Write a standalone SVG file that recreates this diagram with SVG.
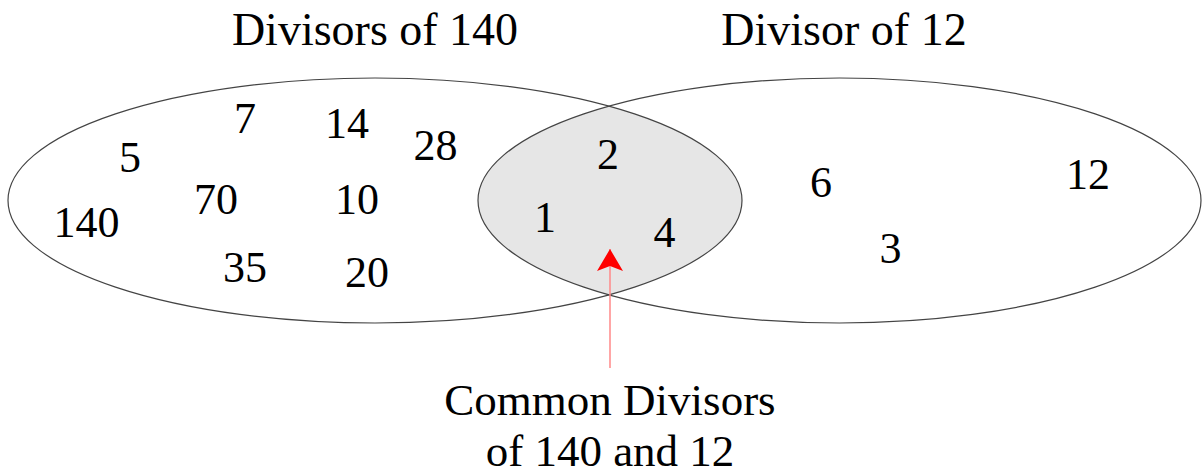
<svg xmlns="http://www.w3.org/2000/svg" width="1202" height="474" viewBox="0 0 1202 474">
<style>
.t{font-family:"Liberation Serif","Times New Roman",serif;font-size:44px;fill:#000;text-anchor:middle}
.h{font-size:46px}
.c{font-size:45px}
.set{fill:none;stroke:#444;stroke-width:1.2}
</style>
<defs>
<clipPath id="clipL"><ellipse cx="375" cy="200.5" rx="367" ry="122.5"/></clipPath>
<marker id="ah" viewBox="0 0 26 26" refX="24" refY="13" markerWidth="26" markerHeight="26" markerUnits="userSpaceOnUse" orient="auto">
<path d="M24 13 L2 0 L7 13 L2 26 Z" fill="#ff0000"/>
</marker>
</defs>
<rect width="1202" height="474" fill="#fff"/>
<g id="intersection">
<ellipse cx="839.5" cy="200.5" rx="361.5" ry="122.5" fill="#e6e6e6" clip-path="url(#clipL)"/>
</g>
<g id="set140">
<ellipse class="set" cx="375" cy="200.5" rx="367" ry="122.5"/>
<text class="t h" x="375" y="45">Divisors of 140</text>
<text class="t" x="245" y="133">7</text>
<text class="t" x="347" y="138">14</text>
<text class="t" x="130" y="172">5</text>
<text class="t" x="435.5" y="160">28</text>
<text class="t" x="216" y="214">70</text>
<text class="t" x="357" y="214">10</text>
<text class="t" x="86.5" y="237">140</text>
<text class="t" x="245" y="282">35</text>
<text class="t" x="367" y="287">20</text>
</g>
<g id="set12">
<ellipse class="set" cx="839.5" cy="200.5" rx="361.5" ry="122.5"/>
<text class="t h" x="844" y="45">Divisor of 12</text>
<text class="t" x="821" y="197">6</text>
<text class="t" x="890.5" y="263">3</text>
<text class="t" x="1088" y="189">12</text>
</g>
<g id="common">
<text class="t" x="608" y="169">2</text>
<text class="t" x="545" y="232">1</text>
<text class="t" x="664.5" y="247">4</text>
</g>
<g id="connectors">
<line x1="610" y1="368" x2="610" y2="249" stroke="#ff8888" stroke-width="1.5" marker-end="url(#ah)"/>
</g>
<g id="label">
<text class="t c" x="610" y="415">Common Divisors</text>
<text class="t c" x="610" y="466">of 140 and 12</text>
</g>
</svg>
